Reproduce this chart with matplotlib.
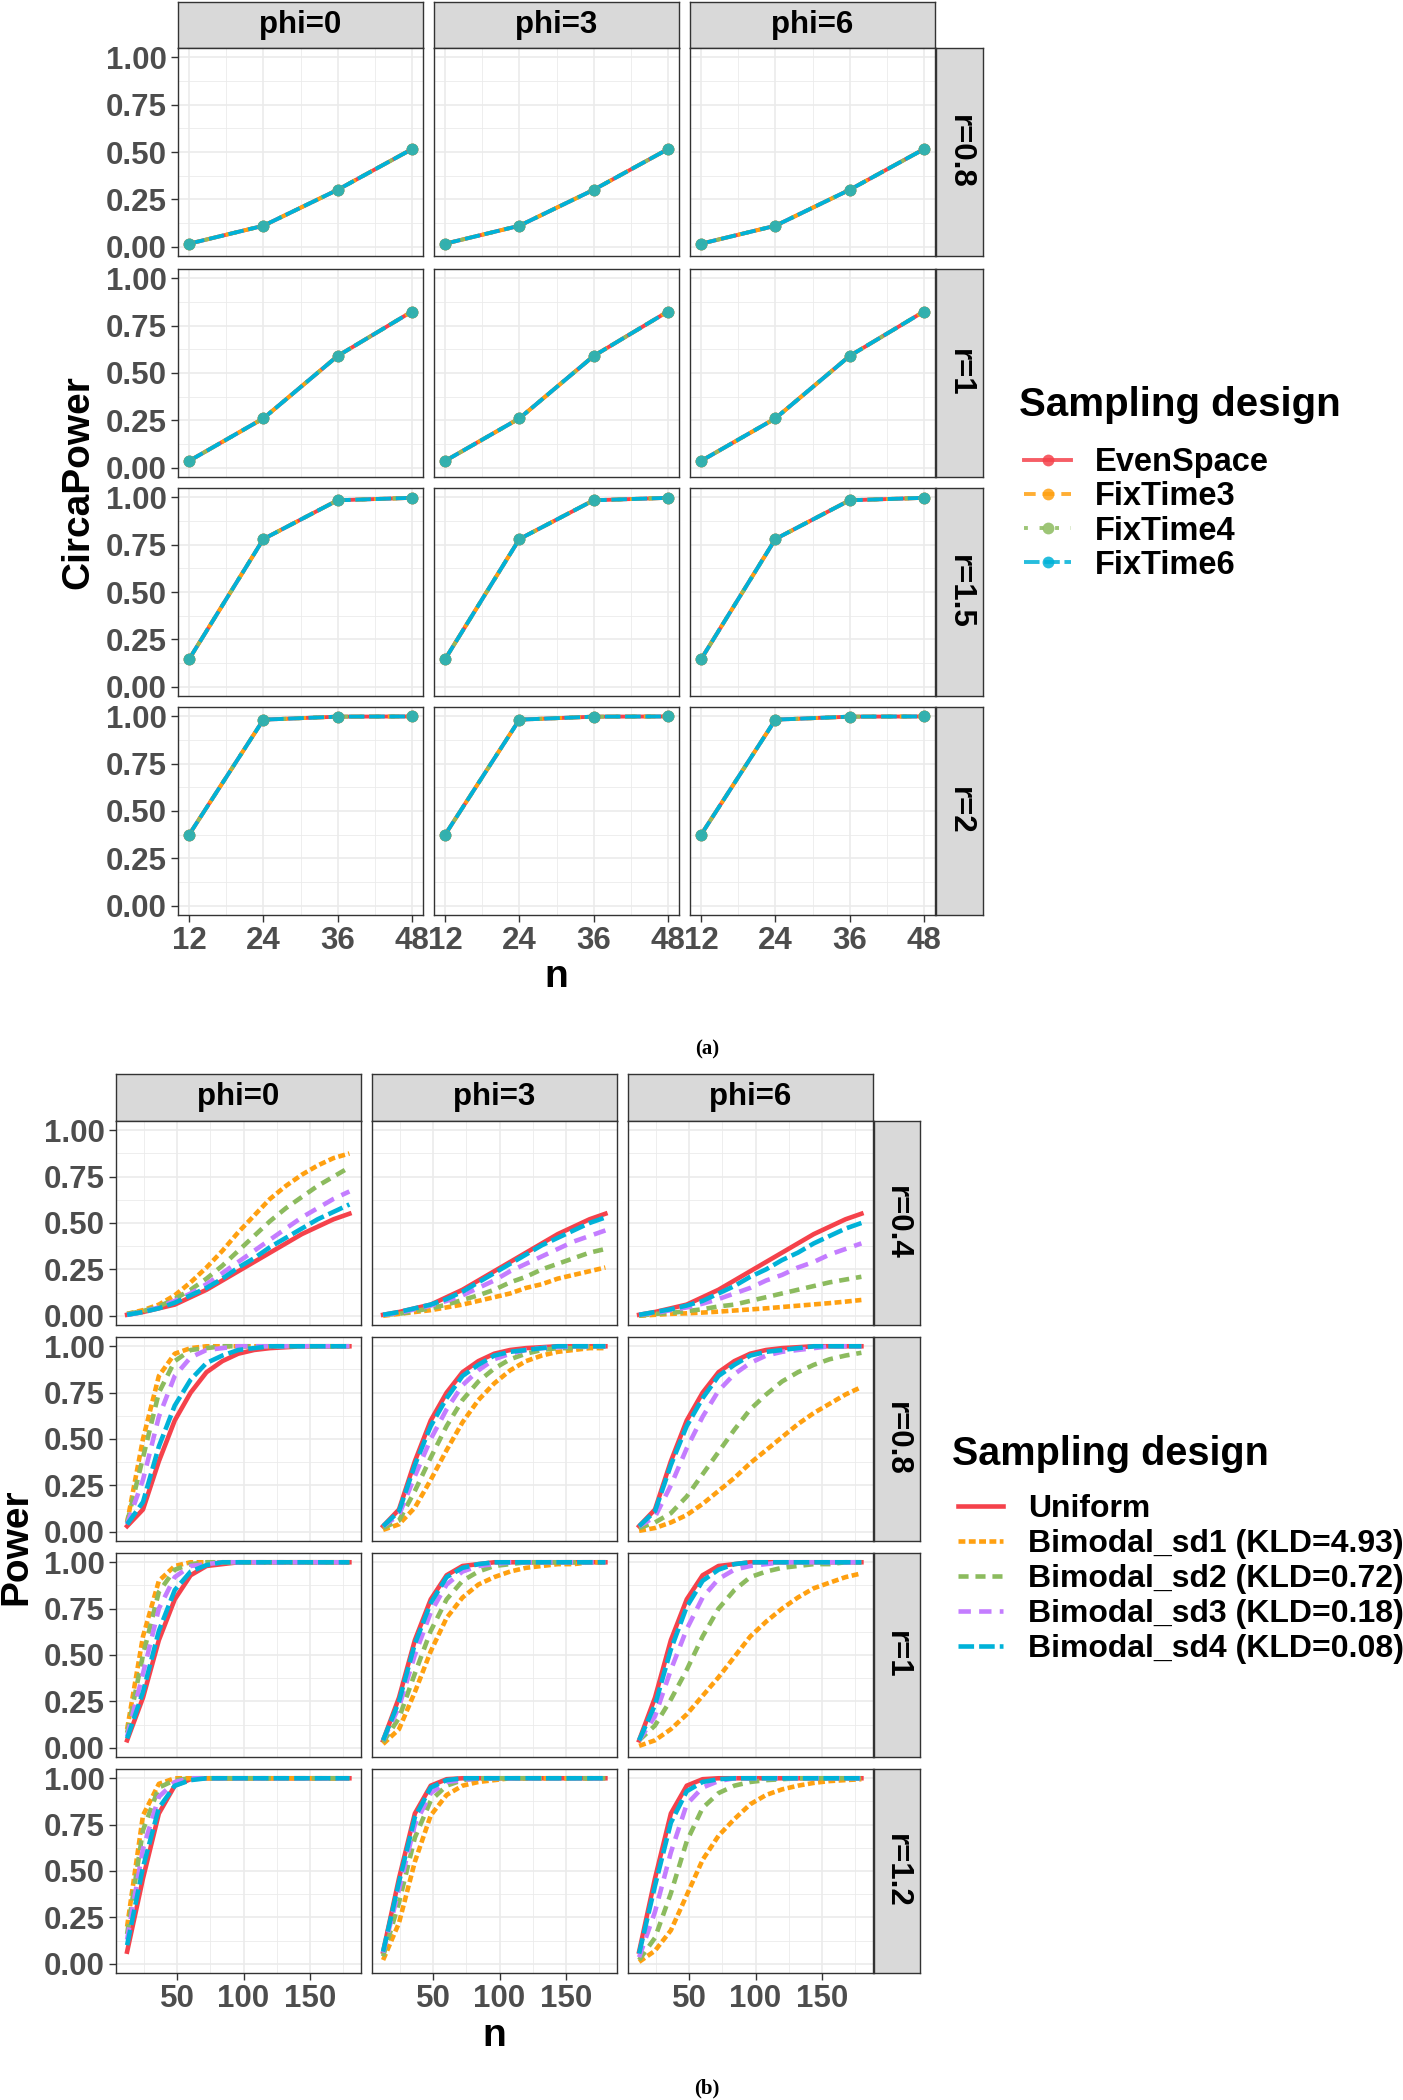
import matplotlib
matplotlib.use("Agg")
import matplotlib.pyplot as plt
from matplotlib.lines import Line2D

plt.rcParams['font.family'] = ['Liberation Sans', 'DejaVu Sans']
plt.rcParams['font.weight'] = 'bold'

# ------------------------------------------------------------------ data (a)
n_a = [12, 24, 36, 48]
phi_labels = ['phi=0', 'phi=3', 'phi=6']
r_labels_a = ['r=0.8', 'r=1', 'r=1.5', 'r=2']
designs_a = ['EvenSpace', 'FixTime3', 'FixTime4', 'FixTime6']
# all four designs (and all phi) give the same CircaPower values
circa_r08 = [0.015, 0.11, 0.30, 0.515]
circa_r1 = [0.035, 0.26, 0.59, 0.825]
circa_r15 = [0.145, 0.78, 0.985, 0.998]
circa_r2 = [0.375, 0.983, 0.999, 1.0]

# ------------------------------------------------------------------ data (b)
n_b = [12, 24, 36, 48, 60, 72, 84, 96, 108, 120, 132, 144, 156, 168, 180]
r_labels_b = ['r=0.4', 'r=0.8', 'r=1', 'r=1.2']
designs_b = ['Uniform', 'Bimodal_sd1 (KLD=4.93)', 'Bimodal_sd2 (KLD=0.72)',
             'Bimodal_sd3 (KLD=0.18)', 'Bimodal_sd4 (KLD=0.08)']

# Uniform design (identical for each phi)
uniform_r04 = [0.005, 0.02, 0.04, 0.06, 0.10, 0.14, 0.19, 0.24, 0.29, 0.34, 0.39, 0.44, 0.48, 0.52, 0.55]
uniform_r08 = [0.03, 0.12, 0.38, 0.60, 0.75, 0.86, 0.92, 0.96, 0.98, 0.99, 0.995, 1.0, 1.0, 1.0, 1.0]
uniform_r1 = [0.04, 0.27, 0.58, 0.80, 0.93, 0.98, 0.99, 1.0, 1.0, 1.0, 1.0, 1.0, 1.0, 1.0, 1.0]
uniform_r12 = [0.065, 0.46, 0.81, 0.96, 0.995, 1.0, 1.0, 1.0, 1.0, 1.0, 1.0, 1.0, 1.0, 1.0, 1.0]

# Bimodal designs: rows = sd1, sd2, sd3, sd4
bimodal_r04_phi0 = [
    [0.01, 0.03, 0.06, 0.11, 0.18, 0.26, 0.35, 0.45, 0.54, 0.63, 0.70, 0.76, 0.81, 0.85, 0.875],
    [0.01, 0.025, 0.05, 0.09, 0.14, 0.20, 0.27, 0.35, 0.43, 0.51, 0.58, 0.64, 0.70, 0.75, 0.80],
    [0.005, 0.02, 0.045, 0.08, 0.12, 0.17, 0.23, 0.29, 0.35, 0.41, 0.47, 0.53, 0.58, 0.63, 0.67],
    [0.005, 0.02, 0.04, 0.07, 0.11, 0.15, 0.20, 0.26, 0.31, 0.37, 0.42, 0.47, 0.52, 0.56, 0.60]]
bimodal_r04_phi3 = [
    [0.0, 0.01, 0.02, 0.03, 0.045, 0.06, 0.08, 0.10, 0.12, 0.15, 0.17, 0.20, 0.22, 0.24, 0.26],
    [0.005, 0.01, 0.025, 0.04, 0.06, 0.085, 0.11, 0.14, 0.18, 0.21, 0.25, 0.28, 0.31, 0.34, 0.36],
    [0.005, 0.015, 0.035, 0.055, 0.08, 0.11, 0.15, 0.19, 0.24, 0.28, 0.32, 0.36, 0.40, 0.43, 0.46],
    [0.005, 0.02, 0.04, 0.06, 0.09, 0.13, 0.18, 0.23, 0.28, 0.33, 0.38, 0.42, 0.46, 0.50, 0.53]]
bimodal_r04_phi6 = [
    [0.0, 0.005, 0.01, 0.013, 0.017, 0.022, 0.028, 0.034, 0.04, 0.047, 0.054, 0.061, 0.068, 0.076, 0.085],
    [0.0, 0.01, 0.015, 0.025, 0.035, 0.05, 0.06, 0.08, 0.10, 0.12, 0.14, 0.16, 0.18, 0.195, 0.21],
    [0.005, 0.015, 0.03, 0.045, 0.065, 0.09, 0.12, 0.15, 0.19, 0.22, 0.26, 0.29, 0.33, 0.36, 0.39],
    [0.005, 0.02, 0.035, 0.055, 0.08, 0.12, 0.16, 0.21, 0.25, 0.30, 0.34, 0.39, 0.43, 0.47, 0.50]]

bimodal_r08_phi0 = [
    [0.05, 0.50, 0.84, 0.96, 0.99, 1.0, 1.0, 1.0, 1.0, 1.0, 1.0, 1.0, 1.0, 1.0, 1.0],
    [0.05, 0.40, 0.75, 0.92, 0.98, 0.99, 1.0, 1.0, 1.0, 1.0, 1.0, 1.0, 1.0, 1.0, 1.0],
    [0.04, 0.28, 0.62, 0.84, 0.94, 0.98, 0.99, 1.0, 1.0, 1.0, 1.0, 1.0, 1.0, 1.0, 1.0],
    [0.04, 0.16, 0.46, 0.68, 0.82, 0.91, 0.95, 0.98, 0.99, 1.0, 1.0, 1.0, 1.0, 1.0, 1.0]]
bimodal_r08_phi3 = [
    [0.01, 0.04, 0.13, 0.28, 0.44, 0.59, 0.71, 0.80, 0.87, 0.92, 0.95, 0.97, 0.98, 0.99, 0.99],
    [0.02, 0.06, 0.22, 0.40, 0.57, 0.71, 0.81, 0.88, 0.93, 0.96, 0.98, 0.99, 0.99, 1.0, 1.0],
    [0.03, 0.09, 0.30, 0.50, 0.66, 0.79, 0.87, 0.93, 0.96, 0.98, 0.99, 0.995, 1.0, 1.0, 1.0],
    [0.03, 0.11, 0.36, 0.57, 0.72, 0.84, 0.90, 0.95, 0.97, 0.98, 0.99, 1.0, 1.0, 1.0, 1.0]]
bimodal_r08_phi6 = [
    [0.005, 0.02, 0.05, 0.09, 0.15, 0.22, 0.29, 0.37, 0.44, 0.51, 0.58, 0.64, 0.69, 0.74, 0.78],
    [0.02, 0.05, 0.10, 0.19, 0.31, 0.43, 0.55, 0.66, 0.74, 0.81, 0.86, 0.90, 0.93, 0.95, 0.965],
    [0.03, 0.08, 0.25, 0.45, 0.62, 0.76, 0.85, 0.91, 0.95, 0.97, 0.98, 0.99, 1.0, 1.0, 1.0],
    [0.03, 0.11, 0.36, 0.57, 0.72, 0.84, 0.90, 0.95, 0.97, 0.98, 0.99, 1.0, 1.0, 1.0, 1.0]]

bimodal_r1_phi0 = [
    [0.10, 0.60, 0.90, 0.98, 1.0, 1.0, 1.0, 1.0, 1.0, 1.0, 1.0, 1.0, 1.0, 1.0, 1.0],
    [0.08, 0.50, 0.84, 0.96, 0.99, 1.0, 1.0, 1.0, 1.0, 1.0, 1.0, 1.0, 1.0, 1.0, 1.0],
    [0.06, 0.40, 0.75, 0.92, 0.98, 0.99, 1.0, 1.0, 1.0, 1.0, 1.0, 1.0, 1.0, 1.0, 1.0],
    [0.05, 0.30, 0.63, 0.85, 0.95, 0.985, 1.0, 1.0, 1.0, 1.0, 1.0, 1.0, 1.0, 1.0, 1.0]]
bimodal_r1_phi3 = [
    [0.02, 0.10, 0.30, 0.52, 0.70, 0.81, 0.88, 0.92, 0.95, 0.97, 0.98, 0.99, 0.99, 1.0, 1.0],
    [0.03, 0.16, 0.40, 0.63, 0.80, 0.90, 0.95, 0.98, 0.99, 1.0, 1.0, 1.0, 1.0, 1.0, 1.0],
    [0.04, 0.22, 0.50, 0.73, 0.88, 0.95, 0.98, 0.99, 1.0, 1.0, 1.0, 1.0, 1.0, 1.0, 1.0],
    [0.04, 0.25, 0.56, 0.78, 0.92, 0.97, 0.99, 1.0, 1.0, 1.0, 1.0, 1.0, 1.0, 1.0, 1.0]]
bimodal_r1_phi6 = [
    [0.01, 0.04, 0.10, 0.18, 0.28, 0.38, 0.49, 0.60, 0.68, 0.75, 0.81, 0.86, 0.89, 0.92, 0.94],
    [0.04, 0.12, 0.26, 0.42, 0.60, 0.75, 0.85, 0.92, 0.95, 0.97, 0.98, 0.99, 0.99, 1.0, 1.0],
    [0.04, 0.17, 0.42, 0.64, 0.81, 0.91, 0.96, 0.98, 0.99, 1.0, 1.0, 1.0, 1.0, 1.0, 1.0],
    [0.04, 0.23, 0.53, 0.76, 0.90, 0.96, 0.99, 1.0, 1.0, 1.0, 1.0, 1.0, 1.0, 1.0, 1.0]]

bimodal_r12_phi0 = [
    [0.20, 0.80, 0.97, 1.0, 1.0, 1.0, 1.0, 1.0, 1.0, 1.0, 1.0, 1.0, 1.0, 1.0, 1.0],
    [0.16, 0.72, 0.95, 0.99, 1.0, 1.0, 1.0, 1.0, 1.0, 1.0, 1.0, 1.0, 1.0, 1.0, 1.0],
    [0.13, 0.62, 0.90, 0.98, 1.0, 1.0, 1.0, 1.0, 1.0, 1.0, 1.0, 1.0, 1.0, 1.0, 1.0],
    [0.10, 0.52, 0.84, 0.96, 0.99, 1.0, 1.0, 1.0, 1.0, 1.0, 1.0, 1.0, 1.0, 1.0, 1.0]]
bimodal_r12_phi3 = [
    [0.02, 0.22, 0.55, 0.80, 0.91, 0.96, 0.98, 0.99, 1.0, 1.0, 1.0, 1.0, 1.0, 1.0, 1.0],
    [0.04, 0.33, 0.68, 0.88, 0.96, 0.99, 1.0, 1.0, 1.0, 1.0, 1.0, 1.0, 1.0, 1.0, 1.0],
    [0.06, 0.40, 0.75, 0.92, 0.98, 0.99, 1.0, 1.0, 1.0, 1.0, 1.0, 1.0, 1.0, 1.0, 1.0],
    [0.065, 0.44, 0.79, 0.95, 0.99, 1.0, 1.0, 1.0, 1.0, 1.0, 1.0, 1.0, 1.0, 1.0, 1.0]]
bimodal_r12_phi6 = [
    [0.01, 0.07, 0.18, 0.37, 0.56, 0.69, 0.78, 0.86, 0.91, 0.94, 0.96, 0.975, 0.985, 0.99, 0.995],
    [0.02, 0.14, 0.38, 0.66, 0.84, 0.92, 0.96, 0.98, 0.99, 0.995, 1.0, 1.0, 1.0, 1.0, 1.0],
    [0.035, 0.28, 0.60, 0.86, 0.95, 0.985, 1.0, 1.0, 1.0, 1.0, 1.0, 1.0, 1.0, 1.0, 1.0],
    [0.055, 0.42, 0.76, 0.93, 0.98, 0.995, 1.0, 1.0, 1.0, 1.0, 1.0, 1.0, 1.0, 1.0, 1.0]]

circa_rows = [circa_r08, circa_r1, circa_r15, circa_r2]
uniform_rows = [uniform_r04, uniform_r08, uniform_r1, uniform_r12]
bimodal_grid = [[bimodal_r04_phi0, bimodal_r04_phi3, bimodal_r04_phi6],
                [bimodal_r08_phi0, bimodal_r08_phi3, bimodal_r08_phi6],
                [bimodal_r1_phi0, bimodal_r1_phi3, bimodal_r1_phi6],
                [bimodal_r12_phi0, bimodal_r12_phi3, bimodal_r12_phi6]]

# ------------------------------------------------------------------ styles
RED, ORANGE, GREEN, PURPLE, BLUE = '#F5424B', '#FFA010', '#8CBB5E', '#C47DFF', '#00B2D8'
cols_a = [RED, ORANGE, GREEN, BLUE]
ls_a = ['-', (0, (3.0, 1.8)), (0, (1.0, 3.0)), (0, (4.0, 1.2))]
cols_b = [RED, ORANGE, GREEN, PURPLE, BLUE]
ls_b = ['-', (0, (1.5, 0.75)), (0, (2.2, 1.5)), (0, (2.7, 1.8)), (0, (3.4, 1.1))]

TICK_COL = '#4D4D4D'
FRAME = '#333333'
GRID = '#EBEBEB'
STRIP = '#D9D9D9'

W, H = 1403, 2100
fig = plt.figure(figsize=(W / 100, H / 100), dpi=100)


def add_ax(left, top, width, height):
    return fig.add_axes([left / W, 1 - (top + height) / H, width / W, height / H])


def style_panel(ax, xmaj, xmin, show_x, show_y, xlim):
    ax.set_xlim(*xlim)
    ax.set_ylim(-0.05, 1.05)
    ax.set_xticks(xmaj)
    ax.set_xticks(xmin, minor=True)
    ax.set_yticks([0, 0.25, 0.5, 0.75, 1.0])
    ax.set_yticks([0.125, 0.375, 0.625, 0.875], minor=True)
    ax.grid(which='major', color=GRID, lw=1.2, zorder=0)
    ax.grid(which='minor', color=GRID, lw=0.6, zorder=0)
    ax.set_axisbelow(True)
    for s in ax.spines.values():
        s.set_color(FRAME)
        s.set_linewidth(1.0)
    ax.tick_params(which='minor', length=0)
    ax.tick_params(which='major', length=5, width=1.0, color=FRAME,
                   labelcolor=TICK_COL, labelsize=22.5, pad=3)
    if show_y:
        ax.set_yticklabels(['0.00', '0.25', '0.50', '0.75', '1.00'], fontweight='bold')
    else:
        ax.tick_params(axis='y', which='major', length=0, labelleft=False)
    if show_x:
        ax.set_xticklabels([str(v) for v in xmaj], fontweight='bold')
    else:
        ax.tick_params(axis='x', which='major', length=0, labelbottom=False)


def strip(left, top, width, height, text, rot=0):
    s = add_ax(left, top, width, height)
    s.set_facecolor(STRIP)
    s.set_xticks([])
    s.set_yticks([])
    for sp in s.spines.values():
        sp.set_color(FRAME)
        sp.set_linewidth(1.0)
    s.text(0.5, 0.5, text, transform=s.transAxes, ha='center', va='center',
           fontsize=22.5, fontweight='bold', color='black', rotation=rot)


# ------------------------------------------------------------------ chart (a)
colL_a = [178, 434, 690]
pw_a = 245
rowT_a = [48, 269, 488, 707]
ph_a = 208
for j, lab in enumerate(phi_labels):
    strip(colL_a[j], 2, pw_a, 46, lab)
for i, lab in enumerate(r_labels_a):
    strip(colL_a[2] + pw_a + 1, rowT_a[i], 47, ph_a, lab, rot=-90)
    for j in range(3):
        ax = add_ax(colL_a[j], rowT_a[i], pw_a, ph_a)
        style_panel(ax, n_a, [18, 30, 42], i == 3, j == 0, (10.2, 49.8))
        for k in range(4):
            ax.plot(n_a, circa_rows[i], color=cols_a[k], ls=ls_a[k], lw=2.8,
                    zorder=3 + k)
        for k in range(4):
            ax.plot(n_a, circa_rows[i], ls='none', marker='o', ms=8.5,
                    color=cols_a[k], alpha=0.7, mec='none', zorder=8 + k)

fig.text(556 / W, 1 - 977 / H, 'n', ha='center', va='center', fontsize=28,
         fontweight='bold')
fig.text(78 / W, 1 - 482 / H, 'CircaPower', ha='center', va='center',
         rotation=90, fontsize=28, fontweight='bold')

handles_a = [Line2D([0], [0], color=cols_a[k], ls=ls_a[k], lw=2.8, marker='o',
                    ms=8.5, mfc=cols_a[k], mec='none', alpha=0.85) for k in range(4)]
fig.text(1019 / W, 1 - 405 / H, 'Sampling design', ha='left', va='center',
         fontsize=29, fontweight='bold')
leg_a = fig.legend(handles_a, designs_a, loc='upper left',
                   bbox_to_anchor=(1024 / W, 1 - 447 / H), frameon=False,
                   fontsize=23.5, handlelength=1.44, handletextpad=0.74,
                   labelspacing=0.1, borderpad=0, borderaxespad=0)
for t in leg_a.get_texts():
    t.set_fontweight('bold')

fig.text(707 / W, 1 - 1049 / H, '(a)', ha='center', va='center', fontsize=15,
         fontweight='bold', family='Liberation Serif')

# ------------------------------------------------------------------ chart (b)
colL_b = [116, 372, 628]
pw_b = 244.5
rowT_b = [1121, 1337, 1553, 1769]
ph_b = 204
for j, lab in enumerate(phi_labels):
    strip(colL_b[j], 1074, pw_b, 47, lab)
for i, lab in enumerate(r_labels_b):
    strip(colL_b[2] + pw_b + 1, rowT_b[i], 46, ph_b, lab, rot=-90)
    for j in range(3):
        ax = add_ax(colL_b[j], rowT_b[i], pw_b, ph_b)
        style_panel(ax, [50, 100, 150], [25, 75, 125, 175], i == 3, j == 0,
                    (3.6, 188.4))
        series = [uniform_rows[i]] + bimodal_grid[i][j]
        for k in range(5):
            ax.plot(n_b, series[k], color=cols_b[k], ls=ls_b[k], lw=3.3,
                    zorder=3 + k)

fig.text(494 / W, 1 - 2036 / H, 'n', ha='center', va='center', fontsize=28,
         fontweight='bold')
fig.text(16 / W, 1 - 1547 / H, 'Power', ha='center', va='center',
         rotation=90, fontsize=28, fontweight='bold')

handles_b = [Line2D([0], [0], color=cols_b[k], ls=ls_b[k], lw=3.3) for k in range(5)]
fig.text(952 / W, 1 - 1454 / H, 'Sampling design', ha='left', va='center',
         fontsize=28.5, fontweight='bold')
leg_b = fig.legend(handles_b, designs_b, loc='upper left',
                   bbox_to_anchor=(958 / W, 1 - 1494 / H), frameon=False,
                   fontsize=23, handlelength=1.4, handletextpad=0.8,
                   labelspacing=0.16, borderpad=0, borderaxespad=0)
for t in leg_b.get_texts():
    t.set_fontweight('bold')

fig.text(707 / W, 1 - 2098 / H, '(b)', ha='center', va='bottom', fontsize=15,
         fontweight='bold', family='Liberation Serif')

fig.savefig('out.png', dpi=100)
